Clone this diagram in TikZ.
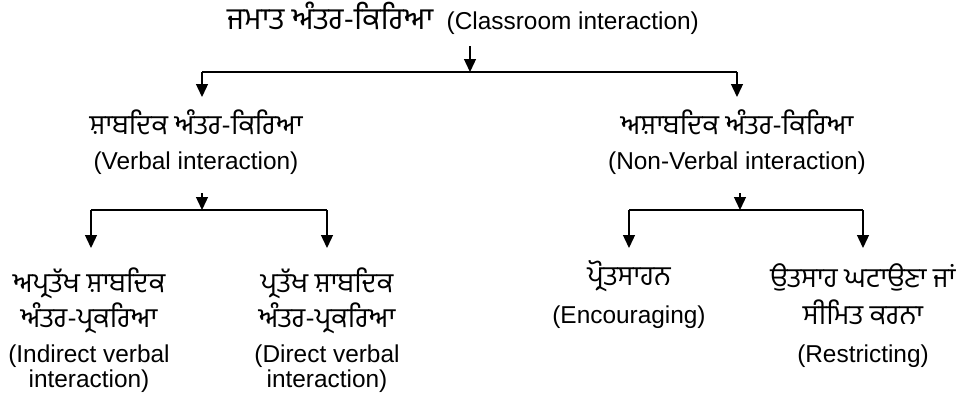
\documentclass[tikz,border=0pt]{standalone}
\usepackage{fontspec}
\setmainfont{Liberation Sans}
\newfontfamily\pa[Script=Gurmukhi,Scale=1.13]{Hind Jalandhar}
\newfontfamily\patitle[Script=Gurmukhi,Scale=1.25]{Hind Jalandhar}
\usetikzlibrary{arrows.meta}
\lineskiplimit=-30pt
\lineskip=0pt
\tikzset{
  conn/.style={line width=0.65pt, draw=black},
  arr/.style={conn, -{Triangle[length=6.5pt,width=6pt]}},
  lbl/.style={align=center, inner sep=0pt, anchor=base, text=black,
    font=\fontsize{12.2}{17.5}\selectfont},
  lblwide/.style={lbl, font=\fontsize{12.2}{18.7}\selectfont},
}
\begin{document}
\begin{tikzpicture}[x=0.5pt,y=-0.5pt]
\useasboundingbox (0,0) rectangle (964,393);
% nodes (anchor = baseline of last line)
\node[lbl] (title) at (463,29) {{\patitle ਜਮਾਤ ਅੰਤਰ-ਕਿਰਿਆ}\ \ (Classroom interaction)};
\node[lbl] (verbal) at (196,169) {{\pa ਸ਼ਾਬਦਿਕ ਅੰਤਰ-ਕਿਰਿਆ}\\(Verbal interaction)};
\node[lbl] (nonverbal) at (737,169) {{\pa ਅਸ਼ਾਬਦਿਕ ਅੰਤਰ-ਕਿਰਿਆ}\\(Non-Verbal interaction)};
\node[lbl] (indirect) at (89,387) {{\pa ਅਪ੍ਰਤੱਖ ਸ਼ਾਬਦਿਕ}\\{\pa ਅੰਤਰ-ਪ੍ਰਕਰਿਆ}\\(Indirect verbal\\[-5pt]interaction)};
\node[lbl] (direct) at (327,387) {{\pa ਪ੍ਰਤੱਖ ਸ਼ਾਬਦਿਕ}\\{\pa ਅੰਤਰ-ਪ੍ਰਕਰਿਆ}\\(Direct verbal\\[-5pt]interaction)};
\node[lblwide] (encour) at (629,323) {{\pa ਪ੍ਰੋਤਸਾਹਨ}\\(Encouraging)};
\node[lblwide] (restr) at (863,362) {{\pa ਉਤਸਾਹ ਘਟਾਉਣਾ ਜਾਂ}\\{\pa ਸੀਮਿਤ ਕਰਨਾ}\\(Restricting)};
% junction coordinates
\coordinate (t0) at (470,46);
\coordinate (j0) at (470,72);
\coordinate (jl) at (202,72);
\coordinate (jr) at (737,72);
\coordinate (vtip) at (202,97);
\coordinate (nvtip) at (737,97);
\coordinate (v0) at (202,193);
\coordinate (v1) at (202,210);
\coordinate (vl) at (91,210);
\coordinate (vr) at (327,210);
\coordinate (itip) at (91,248);
\coordinate (dtip) at (327,248);
\coordinate (n0) at (740,193);
\coordinate (n1) at (740,210);
\coordinate (nl) at (629,210);
\coordinate (nr) at (863,210);
\coordinate (etip) at (629,248);
\coordinate (rtip) at (863,248);
% connectors
\draw[arr] (t0) -- (j0);
\draw[conn] (jl) -- (jr);
\draw[arr] (jl) -- (vtip);
\draw[arr] (jr) -- (nvtip);
\draw[arr] (v0) -- (v1);
\draw[conn] (vl) -- (vr);
\draw[arr] (vl) -- (itip);
\draw[arr] (vr) -- (dtip);
\draw[arr] (n0) -- (n1);
\draw[conn] (nl) -- (nr);
\draw[arr] (nl) -- (etip);
\draw[arr] (nr) -- (rtip);
\end{tikzpicture}
\end{document}
